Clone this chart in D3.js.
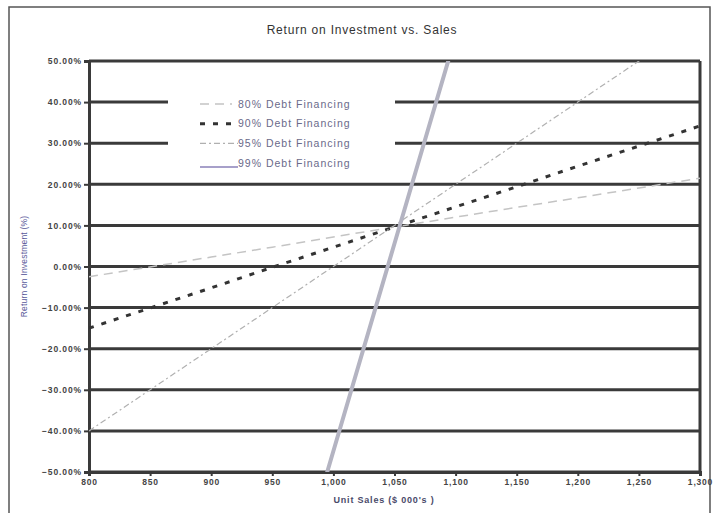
<!DOCTYPE html>
<html><head><meta charset="utf-8">
<script src="https://cdn.jsdelivr.net/npm/d3@7"></script>
<style>body{margin:0;background:#fff;}svg{display:block;font-family:"Liberation Sans",Arial,sans-serif;}</style>
</head><body>
<svg id="c" width="719" height="513"></svg>
<script>
const sales = [800, 850, 900, 950, 1000, 1050, 1100, 1150, 1200, 1250, 1300];
const debt80 = [-2.5, -0.1, 2.3, 4.7, 7.2, 9.6, 12.0, 14.4, 16.7, 19.1, 21.5];
const debt90 = [-15.0, -10.1, -5.2, -0.2, 4.7, 9.6, 14.5, 19.4, 24.4, 29.3, 34.2];
const debt95 = [-40, -30, -20, -10, 0, 10, 20, 30, 40, 50, 60];
const sales99 = [950, 1000, 1050, 1100, 1150];
const debt99 = [-95.4, -44.9, 5.6, 56.1, 106.6];
const yTicks = [50, 40, 30, 20, 10, 0, -10, -20, -30, -40, -50];
const xTicks = [800, 850, 900, 950, 1000, 1050, 1100, 1150, 1200, 1250, 1300];
const seriesNames = ["80% Debt Financing", "90% Debt Financing", "95% Debt Financing", "99% Debt Financing"];

const svg = d3.select("#c");
const L = 89, R = 700, T = 61, B = 472;
const x = d3.scaleLinear().domain([800, 1300]).range([L, R]);
const y = d3.scaleLinear().domain([-50, 50]).range([B, T]);

// outer border
svg.append("rect").attr("x", 9).attr("y", 7).attr("width", 701).attr("height", 510)
  .attr("fill", "none").attr("stroke", "#555").attr("stroke-width", 1.5);

// title
svg.append("text").attr("x", 362).attr("y", 34).attr("text-anchor", "middle")
  .attr("font-size", 12).attr("letter-spacing", 0.8).attr("fill", "#333").text("Return on Investment vs. Sales");

// gridlines
svg.append("g").selectAll("line").data(yTicks).join("line")
  .attr("x1", L).attr("x2", R).attr("y1", d => y(d)).attr("y2", d => y(d))
  .attr("stroke", "#3a3a3a").attr("stroke-width", 3);

// axes
const fmtY = d => d3.format(".2f")(d) + "%";
const yAxis = d3.axisLeft(y).tickValues(yTicks).tickFormat(fmtY).tickSize(5).tickPadding(2);
const gy = svg.append("g").attr("transform", `translate(${L},0)`).call(yAxis);
gy.select(".domain").attr("stroke", "#3a3a3a").attr("stroke-width", 3);
gy.selectAll(".tick line").attr("stroke", "#3a3a3a").attr("stroke-width", 2);
gy.selectAll("text").attr("font-size", 8.5).attr("letter-spacing", 0.9).attr("font-weight", "bold").attr("fill", "#444");

const xAxis = d3.axisBottom(x).tickValues(xTicks).tickFormat(d3.format(",")).tickSize(4).tickPadding(3);
const gx = svg.append("g").attr("transform", `translate(0,${B})`).call(xAxis);
gx.select(".domain").attr("stroke", "#3a3a3a").attr("stroke-width", 3);
gx.selectAll(".tick line").attr("stroke", "#3a3a3a").attr("stroke-width", 2);
gx.selectAll("text").attr("font-size", 8.5).attr("letter-spacing", 0.8).attr("font-weight", "bold").attr("fill", "#444");

// right border
svg.append("line").attr("x1", R).attr("x2", R).attr("y1", T).attr("y2", B)
  .attr("stroke", "#3a3a3a").attr("stroke-width", 3);

// axis titles
svg.append("text").attr("x", 384).attr("y", 503).attr("text-anchor", "middle")
  .attr("font-size", 9).attr("letter-spacing", 0.8).attr("font-weight", "bold").attr("fill", "#4a4a6a").text("Unit Sales ($ 000's )");
svg.append("text").attr("transform", `translate(27,${(T + B) / 2}) rotate(-90)`).attr("text-anchor", "middle")
  .attr("font-size", 8.5).attr("letter-spacing", 0.2).attr("fill", "#5a5a9a").text("Return on Investment (%)");

// legend background (hides gridlines)
svg.append("rect").attr("x", 168).attr("y", 90).attr("width", 227).attr("height", 82).attr("fill", "#fff");

// clip
svg.append("clipPath").attr("id", "clip").append("rect")
  .attr("x", L).attr("y", T).attr("width", R - L).attr("height", B - T);

const line = d3.line().x(d => x(d[0])).y(d => y(d[1]));
const styles = [
  {stroke: "#c4c4c4", width: 1.5, dash: "9,6"},
  {stroke: "#333", width: 3, dash: "5,8"},
  {stroke: "#b0b0b0", width: 1.2, dash: "6,3,2,3"},
  {stroke: "#b4b4c2", width: 4, dash: null}
];
const data = [
  d3.zip(sales, debt80),
  d3.zip(sales, debt90),
  d3.zip(sales, debt95),
  d3.zip(sales99, debt99)
];
const gl = svg.append("g").attr("clip-path", "url(#clip)");
data.forEach((d, i) => {
  gl.append("path").attr("d", line(d)).attr("fill", "none")
    .attr("stroke", styles[i].stroke).attr("stroke-width", styles[i].width)
    .attr("stroke-dasharray", styles[i].dash);
});

// legend
const lg = svg.append("g");
seriesNames.forEach((name, i) => {
  const yy = 104 + i * 19.7;
  const s = styles[i];
  lg.append("line").attr("x1", 200).attr("x2", i === 0 ? 232 : 238)
    .attr("y1", i === 3 ? yy + 4 : yy).attr("y2", i === 3 ? yy + 4 : yy)
    .attr("stroke", i === 3 ? "#8a80b8" : s.stroke).attr("stroke-width", i === 3 ? 1.5 : s.width)
    .attr("stroke-dasharray", s.dash);
  lg.append("text").attr("x", 238).attr("y", yy + 3.5).attr("font-size", 10.5)
    .attr("letter-spacing", 1.0).attr("fill", "#6a6a8a").text(name);
});
</script>
</body></html>
